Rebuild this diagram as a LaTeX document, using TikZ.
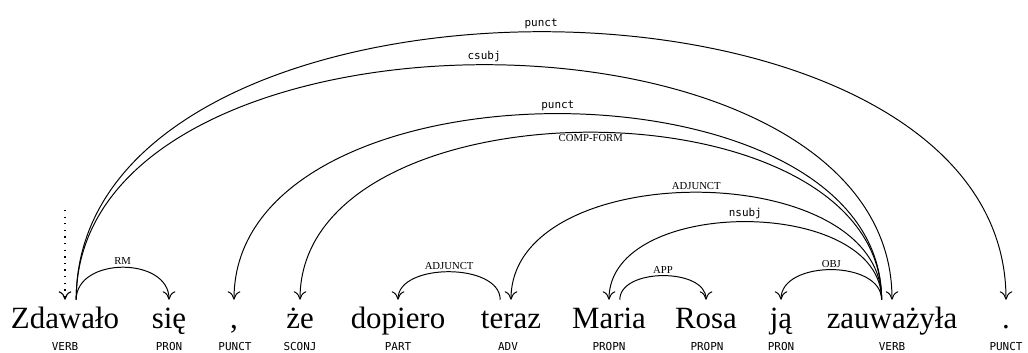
\documentclass[tikz,border=0pt]{standalone}
\usepackage{fontspec}
\setmainfont{Liberation Serif}
\newfontfamily\monofont{DejaVu Sans Mono}
\usetikzlibrary{arrows.meta}

\begin{document}
\begin{tikzpicture}[
  word/.style={anchor=base, inner sep=0pt, text height=0.7cm, font=\fontsize{22}{26}\selectfont},
  tag/.style={anchor=base, inner sep=0pt, font=\monofont\fontsize{7.8}{9}\selectfont},
  arr/.style={-{To[length=6pt, width=9pt]}, line width=0.7pt},
  rel/.style={font=\monofont\fontsize{7.8}{9}\selectfont, inner sep=1.5pt},
  relsc/.style={font=\fontsize{7.6}{9}\selectfont, inner sep=1.5pt},
  rootarr/.style={arr, dash pattern=on 0.9pt off 3.8pt, line width=0.8pt},
]
\useasboundingbox (0,0) rectangle (25.7,8.8);

% ===== Words =====
\node[word] (zd) at (1.625, 0.6) {Zdawało};
\node[word] (si) at (4.225, 0.6) {się};
\node[word] (cm) at (5.85, 0.6) {,};
\node[word] (ze) at (7.5, 0.6) {że};
\node[word] (dp) at (9.95, 0.6) {dopiero};
\node[word] (te) at (12.775, 0.6) {teraz};
\node[word] (ma) at (15.225, 0.6) {Maria};
\node[word] (ro) at (17.65, 0.6) {Rosa};
\node[word] (ja) at (19.525, 0.6) {ją};
\node[word] (za) at (22.3, 0.6) {zauważyła};
\node[word] (dt) at (25.15, 0.6) {.};

% ===== POS tags =====
\node[tag] (zdt) at (1.625, 0.04) {VERB};
\node[tag] (sit) at (4.225, 0.04) {PRON};
\node[tag] (cmt) at (5.875, 0.04) {PUNCT};
\node[tag] (zet) at (7.5, 0.04) {SCONJ};
\node[tag] (dpt) at (9.95, 0.04) {PART};
\node[tag] (tet) at (12.7, 0.04) {ADV};
\node[tag] (mat) at (15.225, 0.04) {PROPN};
\node[tag] (rot) at (17.675, 0.04) {PROPN};
\node[tag] (jat) at (19.525, 0.04) {PRON};
\node[tag] (zat) at (22.3, 0.04) {VERB};
\node[tag] (dtt) at (25.15, 0.04) {PUNCT};

% ===== Root =====
\coordinate (root) at (1.625, 3.55);
\draw[rootarr] (root) -- (zd.north);

% ===== Arcs from Zdawało =====
\draw[arr] ([xshift=2.8mm]zd.north) .. controls +(0,8.93) and +(0,8.93) .. (dt.north)
  node[rel, above, pos=0.5] {punct};
\draw[arr] ([xshift=2.8mm]zd.north) .. controls +(0,7.83) and +(0,7.83) .. (za.north)
  node[rel, above, pos=0.5] {csubj};
\draw[arr] ([xshift=2.8mm]zd.north) .. controls +(0,1.08) and +(0,1.08) .. (si.north)
  node[relsc, above, pos=0.5] {RM};

% ===== Arcs from zauważyła =====
\draw[arr] ([xshift=-2.6mm]za.north) .. controls +(0,6.2) and +(0,6.2) .. (cm.north)
  node[rel, above, pos=0.5] {punct};
\draw[arr] ([xshift=-2.6mm]za.north) .. controls +(0,5.58) and +(0,5.58) .. (ze.north)
  node[relsc, below, pos=0.5] {COMP-FORM};
\draw[arr] ([xshift=-2.6mm]za.north) .. controls +(0,3.58) and +(0,3.58) .. (te.north)
  node[relsc, above, pos=0.5] {ADJUNCT};
\draw[arr] ([xshift=-2.6mm]za.north) .. controls +(0,2.6) and +(0,2.6) .. (ma.north)
  node[rel, above, pos=0.5] {nsubj};
\draw[arr] ([xshift=-2.6mm]za.north) .. controls +(0,1.0) and +(0,1.0) .. (ja.north)
  node[relsc, above, pos=0.5] {OBJ};

% ===== Short arcs =====
\draw[arr] ([xshift=-2.7mm]te.north) .. controls +(0,0.93) and +(0,0.93) .. (dp.north)
  node[relsc, above, pos=0.5] {ADJUNCT};
\draw[arr] ([xshift=2.7mm]ma.north) .. controls +(0,0.8) and +(0,0.8) .. (ro.north)
  node[relsc, above, pos=0.5] {APP};

\end{tikzpicture}
\end{document}
